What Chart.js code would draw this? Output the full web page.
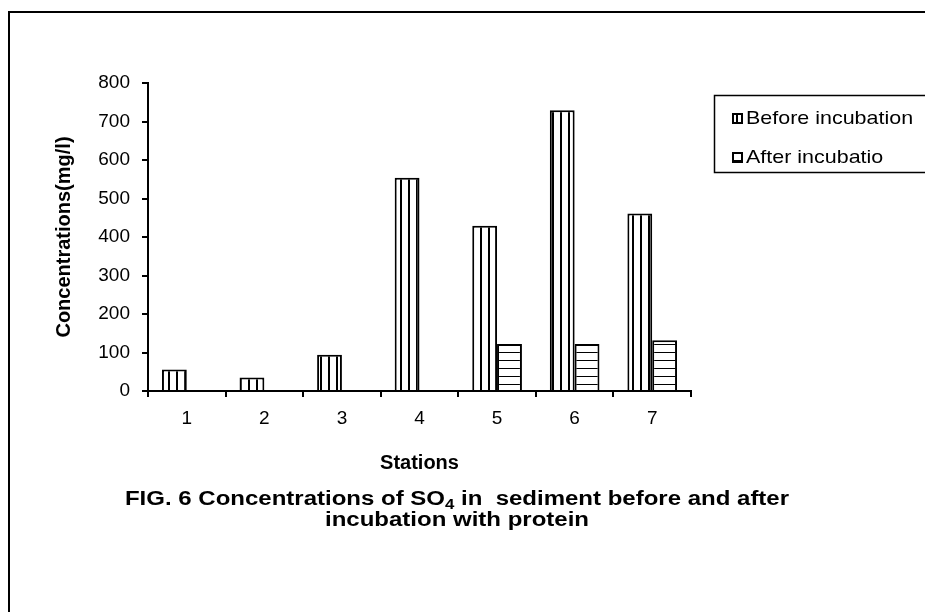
<!DOCTYPE html>
<html>
<head>
<meta charset="utf-8">
<script src="https://cdn.jsdelivr.net/npm/chart.js@4/dist/chart.umd.min.js"></script>
<style>
  html, body { margin: 0; padding: 0; background: #fff; }
  #chartCanvas { display: block; }
</style>
</head>
<body>
<canvas id="chartCanvas" width="925" height="612"></canvas>
<script>
const stations = ['1', '2', '3', '4', '5', '6', '7'];
const beforeIncubation = [56, 35, 94, 554, 429, 729, 461];
const afterIncubation = [0, 0, 0, 0, 122, 122, 132];
const seriesLabels = ['Before incubation', 'After incubatio'];
const yAxisTitle = 'Concentrations(mg/l)';
const xAxisTitle = 'Stations';

const FONT = '"Liberation Sans", Arial, sans-serif';

function stripePattern(vertical) {
  const c = document.createElement('canvas');
  c.width = 8;
  c.height = 8;
  const g = c.getContext('2d');
  g.fillStyle = '#fff';
  g.fillRect(0, 0, 8, 8);
  g.fillStyle = '#000';
  if (vertical) g.fillRect(0, 0, 2, 8);
  else g.fillRect(0, 0, 8, 1);
  return g.createPattern(c, 'repeat');
}

const vertFill = stripePattern(true);
const horizFill = stripePattern(false);

// text in the original figure is a bit wider than the font, stretch it
function stretchedText(c, text, x, y, sx) {
  c.save();
  c.translate(x, y);
  c.scale(sx, 1);
  c.fillText(text, 0, 0);
  c.restore();
}

// frame, legend box and figure caption
const decorPlugin = {
  id: 'decor',
  beforeDraw: function(chart) {
    const c = chart.ctx;
    c.save();
    c.fillStyle = '#fff';
    c.fillRect(0, 0, chart.width, chart.height);
    c.restore();
  },
  afterDraw: function(chart) {
    const c = chart.ctx;
    c.save();
    c.strokeStyle = '#000';
    c.lineWidth = 2;
    c.strokeRect(9, 12, 940, 640);

    // legend
    c.lineWidth = 1.5;
    c.strokeRect(714.5, 95.5, 260, 77);
    const fills = [vertFill, horizFill];
    const ys = [118, 157];
    c.font = '19px ' + FONT;
    c.textBaseline = 'middle';
    c.textAlign = 'left';
    seriesLabels.forEach(function(lbl, i) {
      c.fillStyle = fills[i];
      c.fillRect(733, ys[i] - 4, 9, 9);
      c.lineWidth = 2;
      c.strokeRect(733, ys[i] - 4, 9, 9);
      c.fillStyle = '#000';
      stretchedText(c, lbl, 746, ys[i] + 1, 1.13);
    });

    // caption with subscript
    const big = 'bold 20px ' + FONT;
    const small = 'bold 14px ' + FONT;
    const p1 = 'FIG. 6 Concentrations of SO';
    const sub = '4';
    const p2 = ' in  sediment before and after';
    c.font = big;
    const w1 = c.measureText(p1).width;
    const w3 = c.measureText(p2).width;
    c.font = small;
    const w2 = c.measureText(sub).width;
    const sx = 1.2;
    const cx = 457;
    let x = cx - sx * (w1 + w2 + w3) / 2;
    c.font = big;
    stretchedText(c, p1, x, 499, sx);
    x += sx * w1;
    c.font = small;
    stretchedText(c, sub, x, 505, sx);
    x += sx * w2;
    c.font = big;
    stretchedText(c, p2, x, 499, sx);
    const line2 = 'incubation with protein';
    const wl2 = c.measureText(line2).width;
    stretchedText(c, line2, cx - sx * wl2 / 2, 520, sx);
    c.restore();
  }
};

const ctx = document.getElementById('chartCanvas').getContext('2d');
const chart = new Chart(ctx, {
  type: 'bar',
  data: {
    labels: stations,
    datasets: [
      {
        label: seriesLabels[0],
        data: beforeIncubation,
        backgroundColor: vertFill,
        borderColor: '#000',
        borderWidth: 2,
        categoryPercentage: 0.64,
        barPercentage: 1.0
      },
      {
        label: seriesLabels[1],
        data: afterIncubation,
        backgroundColor: horizFill,
        borderColor: '#000',
        borderWidth: 2,
        categoryPercentage: 0.64,
        barPercentage: 1.0
      }
    ]
  },
  options: {
    responsive: false,
    animation: false,
    layout: { padding: { top: 83, right: 234, bottom: 130, left: 0 } },
    plugins: {
      legend: { display: false },
      tooltip: { enabled: false }
    },
    scales: {
      x: {
        afterFit: function(scale) { scale.height = 91; },
        grid: { drawOnChartArea: false, drawTicks: true, tickLength: 6, color: '#000', lineWidth: 2 },
        border: { display: true, color: '#000', width: 2 },
        ticks: { color: '#000', font: { size: 19, family: FONT }, padding: 10 },
        title: {
          display: true,
          text: xAxisTitle,
          color: '#000',
          font: { size: 20, weight: 'bold', family: FONT },
          padding: { top: 0, bottom: 7 }
        }
      },
      y: {
        min: 0,
        max: 800,
        afterFit: function(scale) { scale.width = 148; },
        grid: { drawOnChartArea: false, drawTicks: true, tickLength: 6, color: '#000', lineWidth: 2 },
        border: { display: true, color: '#000', width: 2 },
        ticks: { stepSize: 100, color: '#000', font: { size: 19, family: FONT }, padding: 12 },
        title: {
          display: true,
          text: yAxisTitle,
          color: '#000',
          font: { size: 20, weight: 'bold', family: FONT },
          padding: { top: 52, bottom: 0 }
        }
      }
    }
  },
  plugins: [decorPlugin]
});
</script>
</body>
</html>
